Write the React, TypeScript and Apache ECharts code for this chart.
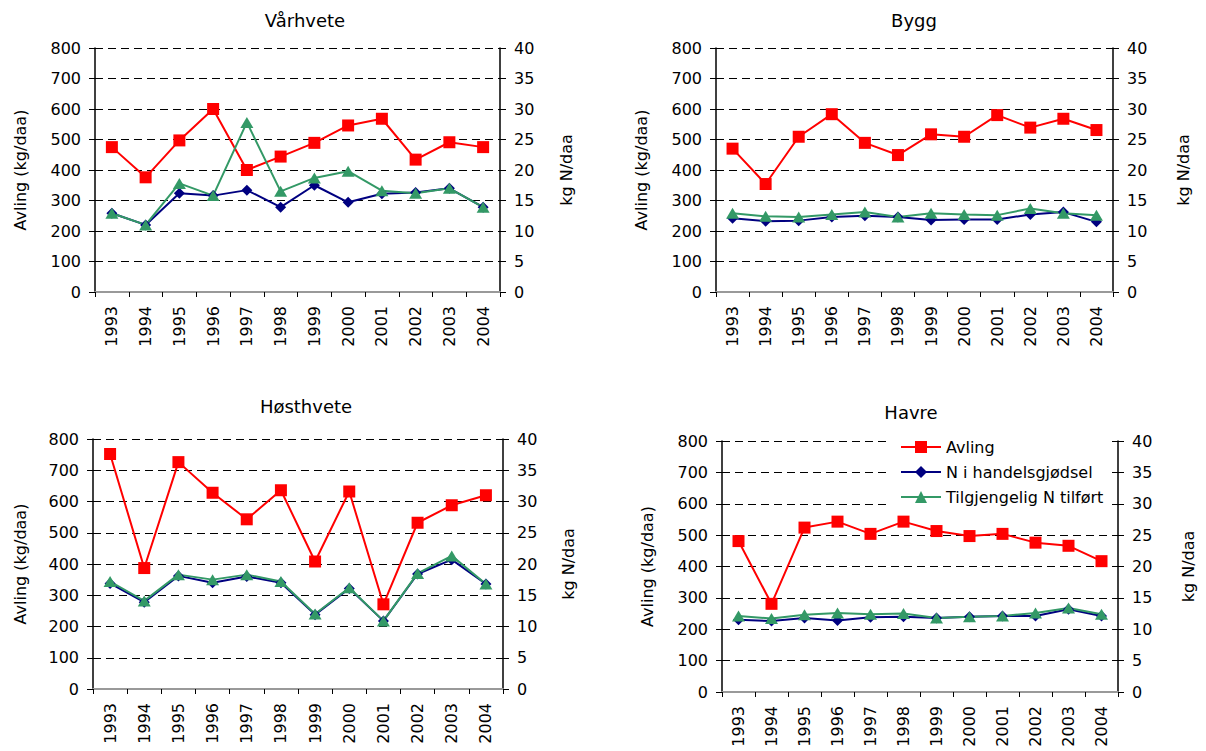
import React, { useEffect, useRef } from "react";
import * as echarts from "echarts";

// Years on the category axis
const years = ["1993", "1994", "1995", "1996", "1997", "1998", "1999", "2000", "2001", "2002", "2003", "2004"];

// Series names
const seriesNames = ["Avling", "N i handelsgjødsel", "Tilgjengelig N tilført"];

// Vårhvete
const varhveteAvling = [475, 376, 497, 600, 400, 444, 489, 546, 568, 434, 491, 475];
const varhveteN = [12.9, 11.0, 16.2, 15.8, 16.7, 13.9, 17.5, 14.7, 16.1, 16.3, 17.0, 13.9];
const varhveteTilg = [12.9, 11.0, 17.8, 15.8, 27.8, 16.5, 18.7, 19.8, 16.6, 16.2, 17.0, 13.9];

// Bygg
const byggAvling = [470, 354, 509, 583, 489, 449, 517, 509, 580, 539, 568, 531];
const byggN = [12.1, 11.6, 11.7, 12.3, 12.5, 12.3, 11.8, 11.9, 11.9, 12.7, 13.1, 11.5];
const byggTilg = [12.9, 12.4, 12.3, 12.7, 13.1, 12.3, 12.9, 12.7, 12.6, 13.7, 12.9, 12.6];

// Høsthvete
const hostAvling = [752, 387, 726, 628, 543, 636, 408, 632, 271, 532, 588, 620];
const hostN = [16.9, 13.9, 18.1, 17.0, 18.0, 17.0, 11.9, 16.1, 10.9, 18.4, 20.7, 16.8];
const hostTilg = [17.2, 14.1, 18.3, 17.5, 18.3, 17.2, 12.0, 16.2, 10.9, 18.5, 21.3, 16.8];

// Havre
const havreAvling = [481, 281, 524, 543, 504, 543, 513, 497, 504, 476, 466, 417];
const havreN = [11.5, 11.3, 11.8, 11.4, 11.9, 12.0, 11.8, 12.0, 12.1, 12.1, 13.2, 12.1];
const havreTilg = [12.1, 11.7, 12.3, 12.6, 12.4, 12.5, 11.8, 12.0, 12.1, 12.6, 13.4, 12.4];

const FONT = '"DejaVu Sans", "Liberation Sans", sans-serif';
const AXIS_COLOR = "#000";

const panels = [
  { title: "Vårhvete", avling: varhveteAvling, n: varhveteN, tilg: varhveteTilg,
    grid: { left: 95, top: 48, width: 405, height: 244 }, titleX: 305, titleY: 11, leftGap: 67, rightGap: 58 },
  { title: "Bygg", avling: byggAvling, n: byggN, tilg: byggTilg,
    grid: { left: 716, top: 48, width: 397, height: 244 }, titleX: 914, titleY: 11, leftGap: 67, rightGap: 62 },
  { title: "Høsthvete", avling: hostAvling, n: hostN, tilg: hostTilg,
    grid: { left: 93, top: 439, width: 410, height: 250 }, titleX: 306, titleY: 397, leftGap: 65, rightGap: 57 },
  { title: "Havre", avling: havreAvling, n: havreN, tilg: havreTilg,
    grid: { left: 722, top: 441, width: 396, height: 251 }, titleX: 911, titleY: 403, leftGap: 67, rightGap: 62 },
];

function buildOption() {
  const grid: any[] = [];
  const xAxis: any[] = [];
  const yAxis: any[] = [];
  const series: any[] = [];
  const title: any[] = [];

  panels.forEach((p, i) => {
    grid.push({ ...p.grid, containLabel: false });
    title.push({
      text: p.title,
      left: p.titleX,
      top: p.titleY,
      textAlign: "center",
      padding: 0,
      textStyle: { fontFamily: FONT, fontSize: 18, fontWeight: "normal", color: "#000" },
    });

    // bottom category axis
    xAxis.push({
      gridIndex: i,
      type: "category",
      data: years,
      boundaryGap: true,
      position: "bottom",
      axisLine: { lineStyle: { color: AXIS_COLOR, width: 1.5 } },
      axisTick: { show: true, length: 5, lineStyle: { color: AXIS_COLOR } },
      axisLabel: { rotate: 90, margin: 14, interval: 0, color: "#000", fontSize: 16, fontFamily: FONT },
      splitLine: { show: false },
    });
    // grey plot-area border along the top
    xAxis.push({
      gridIndex: i,
      type: "category",
      data: years,
      position: "top",
      axisLine: { lineStyle: { color: "#999", width: 2 } },
      axisTick: { show: false },
      axisLabel: { show: false },
      splitLine: { show: false },
    });

    // left: yield
    yAxis.push({
      gridIndex: i,
      type: "value",
      position: "left",
      min: 0,
      max: 800,
      interval: 100,
      name: "Avling (kg/daa)",
      nameLocation: "middle",
      nameGap: p.leftGap,
      nameTextStyle: { fontFamily: FONT, fontSize: 16, color: "#000" },
      axisLine: { show: true, lineStyle: { color: AXIS_COLOR, width: 1.5 } },
      axisTick: { show: true, length: 6, lineStyle: { color: AXIS_COLOR } },
      axisLabel: { margin: 14, color: "#000", fontSize: 16, fontFamily: FONT },
      splitLine: { show: true, lineStyle: { color: "#000", width: 1, type: [8, 5] } },
    });
    // right: nitrogen
    yAxis.push({
      gridIndex: i,
      type: "value",
      position: "right",
      min: 0,
      max: 40,
      interval: 5,
      name: "kg N/daa",
      nameLocation: "middle",
      nameGap: p.rightGap,
      nameTextStyle: { fontFamily: FONT, fontSize: 16, color: "#000" },
      axisLine: { show: true, lineStyle: { color: AXIS_COLOR, width: 1.5 } },
      axisTick: { show: true, length: 6, lineStyle: { color: AXIS_COLOR } },
      axisLabel: { margin: 14, color: "#000", fontSize: 16, fontFamily: FONT },
      splitLine: { show: false },
    });

    series.push({
      type: "line",
      name: seriesNames[0],
      xAxisIndex: 2 * i,
      yAxisIndex: 2 * i,
      data: p.avling,
      symbol: "rect",
      symbolSize: 12,
      itemStyle: { color: "#ff0000" },
      lineStyle: { color: "#ff0000", width: 2 },
    });
    series.push({
      type: "line",
      name: seriesNames[1],
      xAxisIndex: 2 * i,
      yAxisIndex: 2 * i + 1,
      data: p.n,
      symbol: "diamond",
      symbolSize: 11,
      itemStyle: { color: "#000080" },
      lineStyle: { color: "#000080", width: 2 },
    });
    series.push({
      type: "line",
      name: seriesNames[2],
      xAxisIndex: 2 * i,
      yAxisIndex: 2 * i + 1,
      data: p.tilg,
      symbol: "triangle",
      symbolSize: [13, 11],
      itemStyle: { color: "#339966" },
      lineStyle: { color: "#339966", width: 2 },
    });
  });

  return {
    animation: false,
    backgroundColor: "#fff",
    title,
    grid,
    xAxis,
    yAxis,
    series,
    legend: {
      show: true,
      data: seriesNames,
      orient: "vertical",
      left: 887,
      top: 432,
      padding: [7, 6, 8, 13],
      itemWidth: 40,
      itemHeight: 15,
      itemGap: 9,
      backgroundColor: "#fff",
      z: 10,
      textStyle: { fontFamily: FONT, fontSize: 16, color: "#000" },
    },
  };
}

export default function App() {
  const ref = useRef<HTMLDivElement>(null);

  useEffect(() => {
    document.body.style.margin = "0";
    if (!ref.current) return;
    const chart = echarts.init(ref.current, undefined, { renderer: "svg" });
    chart.setOption(buildOption() as any);
    return () => {
      chart.dispose();
    };
  }, []);

  return <div ref={ref} style={{ width: 1206, height: 751 }} />;
}
